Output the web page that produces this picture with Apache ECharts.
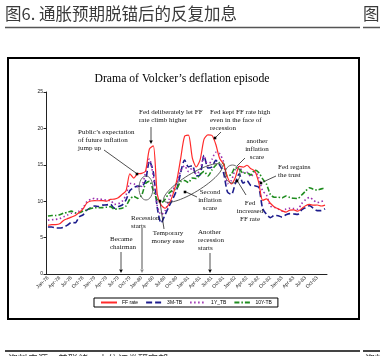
<!DOCTYPE html>
<html><head><meta charset="utf-8">
<script src="https://cdn.jsdelivr.net/npm/echarts@6/dist/echarts.min.js"></script>
<style>html,body{margin:0;padding:0;background:#fff;}#c{width:380px;height:356px;}</style>
</head><body><div id="c"></div>
<script>
// ---- data ----
const years = ['78','79','80','81','82','83'];
const monthNames = ['Jan','Feb','Mar','Apr','May','Jun','Jul','Aug','Sep','Oct','Nov','Dec'];
const categories = [];
years.forEach(y => monthNames.forEach(m => categories.push(m + '-' + y)));
const yTicks = [0, 5, 10, 15, 20, 25];
const seriesNames = ['FF rate', '3M-TB', '1Y_TB', '10Y-TB'];

const ffRate = [6.70,6.78,6.79,6.89,7.36,7.60,7.81,8.04,8.45,8.96,9.76,10.03,
10.07,10.06,10.09,10.01,10.24,10.29,10.47,10.94,11.43,13.77,13.18,13.78,
13.82,14.13,17.19,17.61,10.98,9.47,9.03,9.61,10.87,12.81,15.85,18.90,
19.08,15.93,14.70,15.72,18.52,19.10,19.04,17.82,15.87,15.08,13.31,12.37,
13.22,14.78,14.68,14.94,14.45,14.15,12.59,10.12,10.31,9.71,9.20,8.95,
8.68,8.51,8.77,8.80,8.63,8.98,9.37,9.56,9.45,9.48,9.34,9.47];

const tb3m = [6.45,6.46,6.32,6.31,6.43,6.71,7.07,7.04,7.84,8.13,8.79,9.12,
9.35,9.27,9.46,9.49,9.58,9.05,9.26,9.45,10.18,11.47,11.87,12.07,
12.04,12.81,15.53,14.00,9.15,7.00,8.13,9.26,10.32,11.58,13.89,15.66,
14.72,14.90,13.48,13.63,16.30,14.56,14.70,15.61,14.95,13.87,11.27,10.93,
12.41,13.78,12.49,12.82,12.15,12.11,11.91,9.01,8.20,7.75,8.04,8.01,
7.81,8.13,8.30,8.25,8.19,8.82,9.12,9.39,9.05,8.71,8.71,8.96];

const tb1y = [7.40,7.45,7.50,7.60,7.85,8.10,8.35,8.35,8.65,9.10,9.95,10.25,
10.41,10.24,10.25,10.12,10.12,9.57,9.64,9.98,10.84,12.44,12.39,11.98,
12.06,13.92,15.82,13.30,9.39,8.16,8.65,10.24,11.52,12.49,14.15,14.88,
14.08,14.57,13.71,14.32,16.20,14.86,15.72,16.72,16.52,15.38,12.41,12.85,
14.32,14.73,13.95,13.98,13.34,14.07,13.24,11.43,10.85,9.32,9.16,8.91,
8.62,8.92,9.04,8.98,8.90,9.66,10.20,10.53,10.16,9.81,9.94,10.11];

const tb10y = [7.96,8.03,8.04,8.15,8.35,8.46,8.64,8.41,8.42,8.64,8.81,9.01,
9.10,9.10,9.12,9.18,9.25,8.91,8.95,9.03,9.33,10.30,10.65,10.39,
10.80,12.41,12.75,11.47,10.18,9.78,10.25,11.10,11.51,11.75,12.68,12.84,
12.57,13.19,13.12,13.68,14.10,13.47,14.28,14.94,15.32,15.15,13.39,13.72,
14.59,14.43,13.86,13.87,13.62,14.30,13.95,13.06,12.34,10.91,10.55,10.54,
10.46,10.72,10.51,10.40,10.38,10.85,11.38,11.85,11.65,11.54,11.69,11.83];

// ---- helpers for annotation graphics ----
const SERIF = '"Liberation Serif","Times New Roman",serif';
function txt(x, y, text, align) {
  return {type:'text', x:x, y:y, z:100, style:{text:text, font:'7px ' + SERIF, fill:'#111',
    textAlign:align || 'left', textVerticalAlign:'middle', lineHeight:8}};
}
function ln(x1, y1, x2, y2, color, w) {
  return {type:'line', z:100, shape:{x1:x1, y1:y1, x2:x2, y2:y2},
    style:{stroke:color || '#222', lineWidth:w || 0.8}};
}
function dot(x, y) {
  return {type:'rect', z:101, shape:{x:x-1.3, y:y-1.3, width:2.6, height:2.6}, style:{fill:'#000'}};
}
function arrowDown(x, y, color) {
  return {type:'polygon', z:101, shape:{points:[[x-1.8, y-3.5],[x+1.8, y-3.5],[x, y]]}, style:{fill:color || '#000'}};
}
function ell(cx, cy, rx, ry, rot) {
  return {type:'ellipse', z:100, x:cx, y:cy, rotation:rot || 0,
    shape:{cx:0, cy:0, rx:rx, ry:ry}, style:{fill:'none', stroke:'#444', lineWidth:0.8}};
}

const graphics = [
  // page title & rules
  {type:'text', x:5, y:14, style:{text:'图6. 通胀预期脱锚后的反复加息', font:'16.5px "Noto Sans CJK SC"', fill:'#3a3a3a', textVerticalAlign:'middle'}},
  {type:'text', x:363, y:14, style:{text:'图7.', font:'16.5px "Noto Sans CJK SC"', fill:'#3a3a3a', textVerticalAlign:'middle'}},
  {type:'line', shape:{x1:5, y1:27.5, x2:360, y2:27.5}, style:{stroke:'#555', lineWidth:1.5}},
  {type:'line', shape:{x1:363, y1:27.5, x2:380, y2:27.5}, style:{stroke:'#555', lineWidth:1.5}},
  {type:'line', shape:{x1:5, y1:351, x2:360, y2:351}, style:{stroke:'#444', lineWidth:2}},
  {type:'line', shape:{x1:363, y1:351, x2:380, y2:351}, style:{stroke:'#444', lineWidth:2}},
  {type:'text', x:8, y:354, style:{text:'资料来源：美联储，中信证券研究部', font:'10px "Noto Sans CJK SC"', fill:'#333', textVerticalAlign:'top'}},
  {type:'text', x:365, y:354, style:{text:'资料', font:'10px "Noto Sans CJK SC"', fill:'#333', textVerticalAlign:'top'}},
  // chart box
  {type:'rect', z:-1, shape:{x:8, y:58, width:351, height:261}, style:{fill:'#fff', stroke:'#000', lineWidth:2}},
  // chart title
  {type:'text', x:182, y:79, scaleX:0.9, z:100, style:{text:'Drama of Volcker\u2019s deflation episode', font:'13px ' + SERIF, fill:'#000', textAlign:'center', textVerticalAlign:'middle'}},
  // annotations
  txt(78, 140, 'Public\u2019s expectation\nof future inflation\njump up'),
  ln(104, 150, 136, 173), dot(137, 174), ell(146, 188, 7, 12),
  txt(139, 116, 'Fed deliberately let FF\nrate climb higher'),
  ln(151, 127, 151, 141), arrowDown(151, 144),
  txt(210, 120, 'Fed kept FF rate high\neven in the face of\nrecession'),
  ln(221, 132, 216, 137), dot(215, 138),
  txt(257, 149, 'another\ninflation\nscare', 'center'),
  ln(245, 158, 237, 166), ell(232.5, 174, 7.5, 9),
  txt(278, 171.5, 'Fed regains\nthe trust'),
  ln(276, 176, 263, 182), dot(261, 183),
  txt(210, 200, 'Second\ninflation\nscare', 'center'),
  ell(193, 183, 34, 9, 0.55), dot(185, 192), ln(186, 192, 197, 197),
  txt(250, 211.5, 'Fed\nincreased\nFF rate', 'center'),
  dot(237, 181), ln(238, 182, 246, 195),
  txt(168, 237, 'Temporary\nmoney ease', 'center'),
  dot(160, 201), ln(160, 202, 164, 229),
  txt(131, 222, 'Recession\nstarts'),
  ln(142, 228, 142, 269, '#a8a8a8', 2), arrowDown(142, 273, '#888'),
  txt(110, 243, 'Became\nchairman'),
  ln(121, 252, 121, 269), arrowDown(121, 273),
  txt(198, 240.5, 'Another\nrecession\nstarts'),
  ln(210, 253, 210, 269), arrowDown(210, 273)
];

const chart = echarts.init(document.getElementById('c'), null, {renderer:'canvas'});
const lineStyles = [
  {color:'#ff2a2a', width:1.2, type:'solid'},
  {color:'#1c1c8c', width:1.6, type:[6,3]},
  {color:'#9a2fb0', width:1.6, type:[1.5,2.5]},
  {color:'#1e8c1e', width:1.6, type:[5,2,1.5,2]}
];
const dataSets = [ffRate, tb3m, tb1y, tb10y];

chart.setOption({
  animation:false,
  backgroundColor:'#fff',
  grid:{left:46, right:53, top:92, bottom:82, containLabel:false},
  legend:{left:94, top:298, padding:[2,6,2,6], borderColor:'#000', borderWidth:1, itemWidth:16, itemHeight:6, itemGap:7,
    itemStyle:{opacity:0},
    textStyle:{fontSize:5, color:'#000', fontFamily:'"Liberation Sans",Arial,sans-serif'},
    data:seriesNames},
  xAxis:{type:'category', data:categories, boundaryGap:true,
    axisLine:{lineStyle:{color:'#222', width:1}},
    axisTick:{interval:2, alignWithLabel:true, length:2.5, lineStyle:{color:'#222'}},
    axisLabel:{interval:2, rotate:45, fontSize:5, margin:3, color:'#222', fontFamily:'"Liberation Sans",Arial,sans-serif'},
    splitLine:{show:false}},
  yAxis:{type:'value', min:yTicks[0], max:yTicks[yTicks.length-1], interval:5,
    axisLine:{show:true, lineStyle:{color:'#222', width:1}},
    axisTick:{show:true, length:2.5, lineStyle:{color:'#222'}},
    axisLabel:{fontSize:5, margin:3, color:'#222', fontFamily:'"Liberation Sans",Arial,sans-serif'},
    splitLine:{show:false}},
  graphic:graphics,
  series:seriesNames.map((n, i) => ({
    name:n, type:'line', data:dataSets[i], symbol:'none', smooth:0.25,
    lineStyle:lineStyles[i], itemStyle:{color:lineStyles[i].color}, z:3 + (i === 0 ? 1 : 0)
  }))
});
</script></body></html>
